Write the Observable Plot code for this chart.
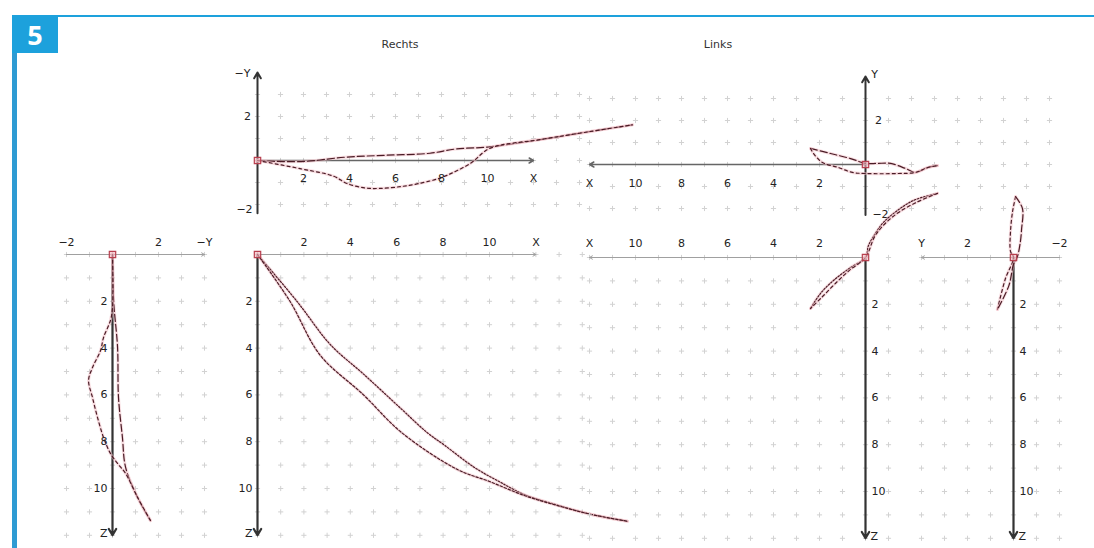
<!DOCTYPE html>
<html>
<head>
<meta charset="utf-8">
<script src="https://cdn.jsdelivr.net/npm/d3@7"></script>
<script src="https://cdn.jsdelivr.net/npm/@observablehq/plot@0.6"></script>
<style>
  html, body { margin: 0; padding: 0; background: #fff; }
  #stage { position: relative; width: 1094px; height: 548px; overflow: hidden; font-family: "DejaVu Sans", sans-serif; }
  #stage svg { position: absolute; left: 0; top: 0; overflow: visible; max-width: none; }
  .topline { position: absolute; left: 12px; top: 15px; width: 1082px; height: 2px; background: #1da1dc; }
  .leftbar { position: absolute; left: 12px; top: 15px; width: 5px; height: 533px; background: #2e9bd3; }
  .badge { position: absolute; left: 12px; top: 15px; width: 46px; height: 38px; background: #1da1dc; color: #fff;
           font: bold 27px "Open Sans", "DejaVu Sans", sans-serif; display: flex; align-items: center; justify-content: center; }
  .ttl { position: absolute; top: 38px; font-size: 11px; color: #333; transform: translateX(-50%); }
</style>
</head>
<body>
<div id="stage">
  <div class="topline"></div>
  <div class="leftbar"></div>
  <div class="badge">5</div>
</div>
<script>
// ---------------- data ----------------
const panelTitles = ["Rechts", "Links"];
const evenTicks = [2, 4, 6, 8, 10];
const sideTicks = [-2, 2];

// Rechts, top view (X, -Y)
const rechtsTopLong  = [[0,0],[1.9,-0.05],[3.8,0.15],[5.6,0.24],[7.5,0.33],[8.6,0.52],[10.1,0.62],[12.3,0.95],[14.0,1.24],[16.3,1.62]];
const rechtsTopShort = [[0,0],[1.9,-0.38],[3.3,-0.71],[3.9,-1.05],[4.7,-1.25],[5.3,-1.27],[6.2,-1.19],[7.0,-1.05],[7.9,-0.81],[8.6,-0.5],[9.3,-0.1],[10.1,0.55],[12.3,0.95],[14.0,1.24],[16.3,1.62]];
// Rechts, front view (X, Z)
const rechtsFrontA = [[0,0],[1.7,2.0],[3.15,3.86],[4.57,5.11],[6.2,6.6],[7.3,7.6],[8.06,8.15],[9.35,9.1],[10.5,9.75],[11.5,10.26],[12.9,10.7],[14.35,11.1],[15.95,11.4]];
const rechtsFrontB = [[0,0],[1.4,2.0],[2.7,4.3],[4.57,6.0],[6.2,7.6],[8.6,9.18],[10.0,9.7],[11.5,10.3],[12.9,10.72],[14.35,11.1],[15.95,11.4]];
// Rechts, side view (-Y, Z)
const rechtsSideLong  = [[0,0],[0.05,2.0],[0.22,3.97],[0.26,6.1],[0.43,7.8],[0.57,9.1],[1.09,10.38],[1.65,11.37]];
const rechtsSideShort = [[0,0],[0,2.26],[-0.09,2.82],[-0.39,3.55],[-0.52,4.1],[-0.87,4.83],[-1.04,5.38],[-0.87,6.11],[-0.65,6.97],[-0.39,7.82],[-0.09,8.5],[0.22,8.93],[0.57,9.36],[1.09,10.38],[1.65,11.37]];
// Links, top view (X, Y)
const linksTopA = [[2.39,0.73],[1.52,0.5],[0.65,0.27],[0,0.05],[-0.52,0.05],[-1.09,0.05],[-1.74,-0.18],[-2.17,-0.36],[-2.7,-0.14],[-3.13,-0.05]];
const linksTopB = [[2.39,0.73],[2.26,0.5],[1.87,0.09],[1.17,-0.14],[0.57,-0.36],[0,-0.41],[-1.39,-0.41],[-2.17,-0.36],[-2.7,-0.14],[-3.13,-0.05]];
// Links, front view (X, Z)
const linksFrontA = [[-3.13,-2.74],[-2.09,-2.44],[-1.39,-2.01],[-0.78,-1.5],[-0.43,-1.03],[-0.13,-0.51],[0,0],[0.65,0.43],[1.39,0.98],[1.96,1.54],[2.39,2.18]];
const linksFrontB = [[-3.13,-2.74],[-2.2,-2.35],[-1.4,-1.9],[-0.8,-1.4],[-0.4,-0.9],[0,0],[0.7,0.55],[1.3,1.1],[1.9,1.7],[2.39,2.18]];
// Links, side view (Y, Z)
const linksSideA = [[-0.09,-2.6],[0.04,-1.97],[0.13,-1.11],[0.13,-0.26],[0,0],[0.35,0.9],[0.7,2.22]];
const linksSideB = [[-0.09,-2.6],[-0.39,-2.09],[-0.35,-1.2],[-0.3,-0.68],[-0.17,-0.04],[0,0.3],[0.2,1.2],[0.7,2.22]];

// ---------------- drawing ----------------
const stage = document.getElementById("stage");
const INK = "#4a1c26", HALO = "#f1bcc4", AXIS_DARK = "#333", AXIS_LIGHT = "#a0a0a0", TXT = "#222";
const LONG = "7,3", SHORT = "3,3", DOT = "1.6,1.6", DOT2 = "2.5,1.8";

function panel(p) {
  const xr = p.hDom.map(v => p.hO + p.hDir * p.hU * v);
  const yr = p.vDom.map(v => p.vO + p.vDir * p.vU * v);
  const grid = d3.cross(d3.range(p.gridH[0], p.gridH[1] + 1), d3.range(p.gridV[0], p.gridV[1] + 1));
  const marks = [
    Plot.dot(grid, {x: d => d[0], y: d => d[1], symbol: "plus", r: 1.8, stroke: "#d2d2d2", strokeWidth: 1}),
    Plot.arrow([p.hAxis], {x1: d => d[0], x2: d => d[1], y1: 0, y2: 0, stroke: p.hColor, strokeWidth: p.hWidth, headLength: 5}),
    Plot.arrow([p.vAxis], {x1: 0, x2: 0, y1: d => d[0], y2: d => d[1], stroke: p.vColor, strokeWidth: p.vWidth, headLength: 5})
  ];
  for (const l of p.lines) {
    marks.push(Plot.line(l.data, {x: d => d[0], y: d => d[1], stroke: HALO, strokeWidth: 3, strokeOpacity: 0.5, curve: "catmull-rom"}));
    marks.push(Plot.line(l.data, {x: d => d[0], y: d => d[1], stroke: INK, strokeWidth: 1.2, strokeDasharray: l.dash, curve: "catmull-rom"}));
  }
  marks.push(Plot.dot([[0, 0]], {x: d => d[0], y: d => d[1], symbol: "square", r: 3.6, stroke: "#b8404f", fill: "#f2b6be", fillOpacity: 0.6, strokeWidth: 1.2}));
  for (const t of p.labels) {
    marks.push(Plot.text(t.data, {x: d => d.x, y: d => d.y, text: d => d.t, dx: t.dx || 0, dy: t.dy || 0,
      textAnchor: t.anchor || "middle", fill: TXT, fontSize: 11}));
  }
  const svg = Plot.plot({
    width: 1094, height: 548, margin: 0,
    x: {domain: p.hDom, range: xr, axis: null},
    y: {domain: p.vDom, range: yr, axis: null},
    style: {background: "transparent", overflow: "visible", fontFamily: "DejaVu Sans, sans-serif"},
    marks
  });
  stage.appendChild(svg);
}

const hLab = (vals, y) => vals.map(v => ({x: v, y, t: String(v).replace("-", "\u2212")}));
const vLab = (vals, x) => vals.map(v => ({x, y: v, t: String(v).replace("-", "\u2212")}));

// Rechts top view
panel({
  hDom: [0, 12], hO: 257, hU: 23, hDir: 1,
  vDom: [-2, 4], vO: 160, vU: 22, vDir: -1,
  gridH: [0, 14], gridV: [-2, 3],
  hAxis: [0, 12], vAxis: [-2.4, 4], hColor: "#666", hWidth: 1.5, vColor: AXIS_DARK, vWidth: 2,
  lines: [{data: rechtsTopLong, dash: LONG}, {data: rechtsTopShort, dash: SHORT}],
  labels: [
    {data: hLab(evenTicks, 0), dy: 18},
    {data: [{x: 12, y: 0, t: "X"}], dy: 18},
    {data: [{x: 0, y: 2, t: "2"}], dx: -10},
    {data: [{x: 0, y: -2, t: "\u22122"}], dx: -13, dy: 5},
    {data: [{x: 0, y: 4, t: "\u2212Y"}], dx: -15, dy: 1}
  ]
});
// Links top view
panel({
  hDom: [0, 12], hO: 865, hU: 23, hDir: -1,
  vDom: [-2, 4], vO: 164, vU: 22, vDir: -1,
  gridH: [-8, 12], gridV: [-2, 3],
  hAxis: [0, 12], vAxis: [-2.3, 4], hColor: "#666", hWidth: 1.5, vColor: AXIS_DARK, vWidth: 2,
  lines: [{data: linksTopA, dash: LONG}, {data: linksTopB, dash: SHORT}],
  labels: [
    {data: hLab(evenTicks, 0), dy: 19},
    {data: [{x: 12, y: 0, t: "X"}], dy: 19},
    {data: [{x: 0, y: 2, t: "2"}], dx: 13},
    {data: [{x: 0, y: -2, t: "\u22122"}], dx: 15, dy: 6},
    {data: [{x: 0, y: 4, t: "Y"}], dx: 9, dy: -2}
  ]
});
// Rechts side view (-Y, Z)
panel({
  hDom: [-2, 4], hO: 112, hU: 23, hDir: 1,
  vDom: [0, 12], vO: 254, vU: 23.4, vDir: 1,
  gridH: [-2, 4], gridV: [0, 12],
  hAxis: [-2, 4], vAxis: [0, 12], hColor: AXIS_LIGHT, hWidth: 1, vColor: AXIS_DARK, vWidth: 2.2,
  lines: [{data: rechtsSideLong, dash: LONG}, {data: rechtsSideShort, dash: SHORT}],
  labels: [
    {data: hLab(sideTicks, 0), dy: -12},
    {data: [{x: 4, y: 0, t: "\u2212Y"}], dy: -12},
    {data: vLab(evenTicks, 0), dx: -5, anchor: "end"},
    {data: [{x: 0, y: 12, t: "Z"}], dx: -5, dy: -2, anchor: "end"}
  ]
});
// Rechts front view (X, Z)
panel({
  hDom: [0, 12], hO: 257, hU: 23.2, hDir: 1,
  vDom: [0, 12], vO: 254, vU: 23.4, vDir: 1,
  gridH: [0, 14], gridV: [0, 12],
  hAxis: [0, 12], vAxis: [0, 12], hColor: AXIS_LIGHT, hWidth: 1, vColor: AXIS_DARK, vWidth: 2.2,
  lines: [{data: rechtsFrontA, dash: DOT}, {data: rechtsFrontB, dash: DOT2}],
  labels: [
    {data: hLab(evenTicks, 0), dy: -12},
    {data: [{x: 12, y: 0, t: "X"}], dy: -12},
    {data: vLab(evenTicks, 0), dx: -5, anchor: "end"},
    {data: [{x: 0, y: 12, t: "Z"}], dx: -5, dy: -2, anchor: "end"}
  ]
});
// Links front view (X, Z)
panel({
  hDom: [0, 12], hO: 865, hU: 23, hDir: -1,
  vDom: [0, 12], vO: 257, vU: 23.4, vDir: 1,
  gridH: [-1, 12], gridV: [0, 12],
  hAxis: [0, 12], vAxis: [0, 12], hColor: AXIS_LIGHT, hWidth: 1, vColor: AXIS_DARK, vWidth: 2.2,
  lines: [{data: linksFrontA, dash: DOT}, {data: linksFrontB, dash: SHORT}],
  labels: [
    {data: hLab(evenTicks, 0), dy: -14},
    {data: [{x: 12, y: 0, t: "X"}], dy: -14},
    {data: vLab(evenTicks, 0), dx: 6, anchor: "start"},
    {data: [{x: 0, y: 12, t: "Z"}], dx: 5, dy: -2, anchor: "start"}
  ]
});
// Links side view (Y, Z)
panel({
  hDom: [-2, 4], hO: 1013, hU: 23, hDir: -1,
  vDom: [0, 12], vO: 257, vU: 23.4, vDir: 1,
  gridH: [-2, 4], gridV: [0, 12],
  hAxis: [-2, 4], vAxis: [0, 12], hColor: AXIS_LIGHT, hWidth: 1, vColor: AXIS_DARK, vWidth: 2.2,
  lines: [{data: linksSideA, dash: SHORT}, {data: linksSideB, dash: LONG}],
  labels: [
    {data: hLab(sideTicks, 0), dy: -14},
    {data: [{x: 4, y: 0, t: "Y"}], dy: -14},
    {data: vLab(evenTicks, 0), dx: 6, anchor: "start"},
    {data: [{x: 0, y: 12, t: "Z"}], dx: 5, dy: -2, anchor: "start"}
  ]
});

// titles
const titleX = [400, 718];
panelTitles.forEach((t, i) => {
  const d = document.createElement("div");
  d.className = "ttl"; d.style.left = titleX[i] + "px"; d.textContent = t;
  stage.appendChild(d);
});
</script>
</body>
</html>
